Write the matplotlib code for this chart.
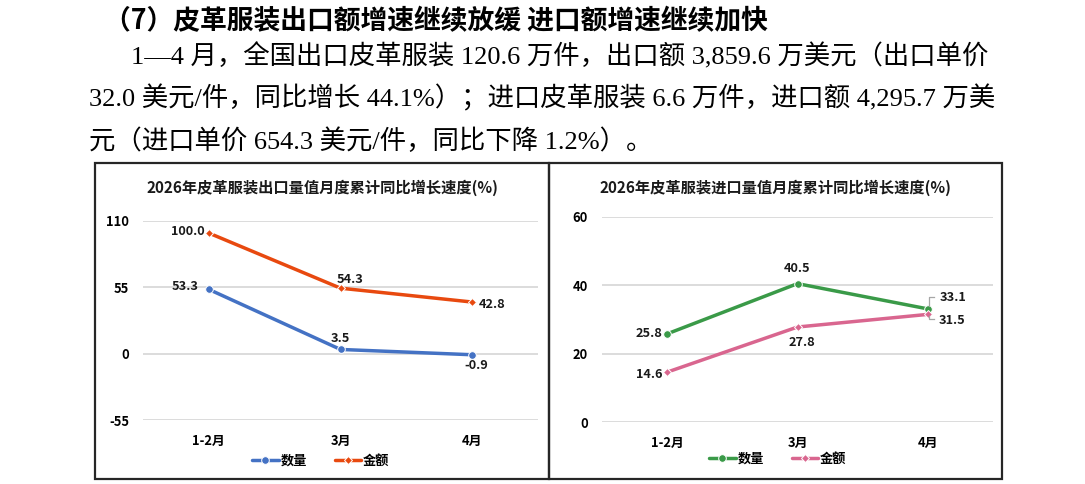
import matplotlib
matplotlib.use('Agg')
import matplotlib.pyplot as plt
from matplotlib.patches import Rectangle
from matplotlib.lines import Line2D

plt.rcParams['font.family'] = ['Noto Sans CJK SC', 'DejaVu Sans']
plt.rcParams['axes.unicode_minus'] = False

# header text
heading = '（7）皮革服装出口额增速继续放缓 进口额增速继续加快'
para_lines = ['1—4 月，全国出口皮革服装 120.6 万件，出口额 3,859.6 万美元（出口单价',
              '32.0 美元/件，同比增长 44.1%）；进口皮革服装 6.6 万件，进口额 4,295.7 万美',
              '元（进口单价 654.3 美元/件，同比下降 1.2%）。']

# chart data
months = ['1-2月', '3月', '4月']
series_names = ['数量', '金额']
export_title = '2026年皮革服装出口量值月度累计同比增长速度(%)'
export_qty = [53.3, 3.5, -0.9]
export_val = [100.0, 54.3, 42.8]
export_ticks = [-55, 0, 55, 110]
import_title = '2026年皮革服装进口量值月度累计同比增长速度(%)'
import_qty = [25.8, 40.5, 33.1]
import_val = [14.6, 27.8, 31.5]
import_ticks = [0, 20, 40, 60]

W, H = 1085, 484
fig = plt.figure(figsize=(W / 100, H / 100), dpi=100)


def fx(px):
    return px / W


def fy(py):
    return 1 - py / H


# header: latin from a serif face, chinese from Noto
body_font = ['Liberation Serif', 'Noto Sans CJK SC']
fig.text(fx(104), fy(21), heading, fontsize=19.3, fontweight='bold', va='center', ha='left')
fig.text(fx(131), fy(56), para_lines[0], fontsize=19, family=body_font, va='center', ha='left')
fig.text(fx(89), fy(98), para_lines[1], fontsize=19, family=body_font, va='center', ha='left')
fig.text(fx(89), fy(141), para_lines[2], fontsize=19, family=body_font, va='center', ha='left')

# frames round the two charts
for x0, x1 in [(95, 549), (549, 1002)]:
    fig.patches.append(Rectangle((fx(x0), fy(479)), fx(x1) - fx(x0), fy(163) - fy(479),
                                 transform=fig.transFigure, fill=False,
                                 edgecolor='#262626', linewidth=1.6, zorder=0))


def draw_chart(rect, title, title_xy, qty, val, ticks, colors, labels_pos, leg_xy):
    ax = fig.add_axes(rect)
    x = list(range(len(months)))
    ax.set_xlim(-0.5, 2.5)
    ax.set_ylim(ticks[0], ticks[-1])
    ax.set_yticks(ticks)
    ax.set_xticks(x)
    ax.set_xticklabels(months)
    for s in ax.spines.values():
        s.set_visible(False)
    ax.grid(axis='y', color='#d9d9d9', linewidth=1.3)
    ax.set_axisbelow(True)
    ax.tick_params(length=0, labelsize=9.3)
    ax.tick_params(axis='x', pad=10)
    ax.tick_params(axis='y', pad=10)
    for lab in ax.get_xticklabels() + ax.get_yticklabels():
        lab.set_fontweight('bold')
    for ys, c, m, ms, name in zip([qty, val], colors, ['o', 'D'], [5.5, 3.8], series_names):
        ax.plot(x, ys, color=c, linewidth=2.5, marker=m, markersize=ms,
                markeredgecolor='white', markeredgewidth=0.7, clip_on=False, label=name,
                solid_capstyle='round')
    for ys, pos in zip([qty, val], labels_pos):
        for i, (v, p) in enumerate(zip(ys, pos)):
            dx, dy, ha = p
            ax.annotate(f'{v:.1f}', (i, v), xytext=(dx, dy), textcoords='offset points',
                        ha=ha, va='center', fontsize=9.2, fontweight='bold', color='#1a1a1a')
    fig.text(fx(title_xy[0]), fy(title_xy[1]), title, fontsize=11, fontweight='bold',
             ha='center', va='center', color='#1a1a1a')
    ax.legend(loc='center', bbox_to_anchor=(fx(leg_xy[0]), fy(leg_xy[1])),
              bbox_transform=fig.transFigure, ncol=2, frameon=False,
              prop={'size': 9.5, 'weight': 'bold'}, handlelength=2.0,
              columnspacing=2.1, handletextpad=0.15, numpoints=1)
    return ax


# export chart
ax1 = draw_chart([fx(143), fy(420), fx(538) - fx(143), fy(221) - fy(420)],
                 export_title, (322, 188), export_qty, export_val, export_ticks,
                 ['#4472c4', '#e8490f'],
                 [[(-7, 2, 'right'), (0, 8, 'center'), (3, -7.5, 'center')],
                  [(-3, 1, 'right'), (7, 6.5, 'center'), (5, -1.5, 'left')]],
                 (321, 461))

# import chart
ax2 = draw_chart([fx(602), fy(422), fx(993) - fx(602), fy(217) - fy(422)],
                 import_title, (775, 188), import_qty, import_val, import_ticks,
                 ['#3a9a48', '#d9668f'],
                 [[(-3.5, 0, 'right'), (0, 11, 'center'), (8.6, 8, 'left')],
                  [(-3.5, -2, 'right'), (3, -11, 'center'), (8, -4.5, 'left')]],
                 (778, 459))

# leader lines for the two 4月 labels in the import chart
ax2.add_line(Line2D([2.008, 2.008, 2.046],
                    [import_qty[2] + 0.85, import_qty[2] + 3.5, import_qty[2] + 3.5],
                    color='#a6a6a6', linewidth=0.9, clip_on=False))
ax2.add_line(Line2D([2.008, 2.008, 2.046],
                    [import_val[2] - 0.5, import_val[2] - 1.35, import_val[2] - 1.35],
                    color='#a6a6a6', linewidth=0.9, clip_on=False))

fig.savefig('out.png', dpi=100)
